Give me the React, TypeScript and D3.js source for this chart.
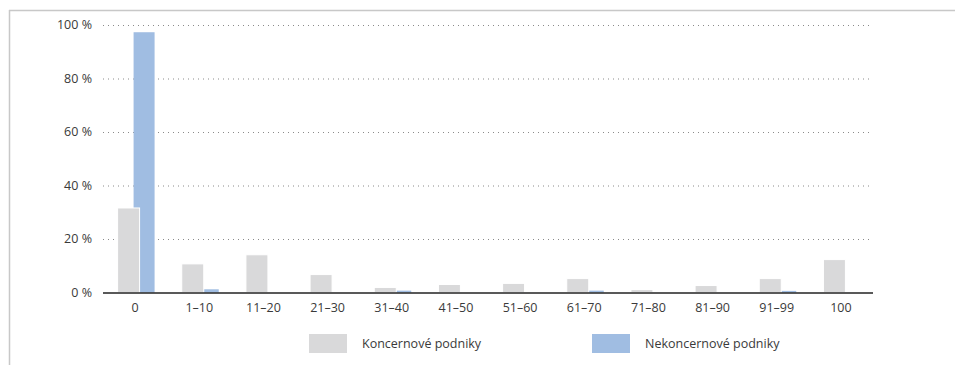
import React from "react";
import * as d3 from "d3";

const categories = ["0", "1–10", "11–20", "21–30", "31–40", "41–50", "51–60", "61–70", "71–80", "81–90", "91–99", "100"];
const koncernove = [31.6, 10.7, 14.1, 6.7, 1.9, 3.0, 3.4, 5.2, 1.1, 2.6, 5.2, 12.3];
const nekoncernove = [97.3, 1.2, 0, 0, 0.7, 0, 0, 0.7, 0, 0, 0.6, 0];
const yTicks = [0, 20, 40, 60, 80, 100];
const seriesNames = ["Koncernové podniky", "Nekoncernové podniky"];

const GRAY = "#d9d9da";
const BLUE = "#a0bde2";
const FONT = "'Open Sans', 'Noto Sans', sans-serif";
const FS = 12.5;

export default function App() {
  const W = 955, H = 365;
  const x0 = 103, x1 = 873, yTop = 25, yBase = 292.5;
  const x = d3.scaleBand<string>().domain(categories).range([x0, x1]).padding(0);
  const y = d3.scaleLinear().domain([0, 100]).range([yBase, yTop]);
  const bw = 22;
  const center = (c: string) => (x(c) as number) + x.bandwidth() / 2;

  return (
    <svg width={W} height={H} style={{ position: "absolute", left: 0, top: 0, background: "#fff" }} fontFamily={FONT}>
      <line x1={9} y1={10.5} x2={W} y2={10.5} stroke="#c8c8c8" strokeWidth={1.5} />
      <line x1={9.5} y1={10} x2={9.5} y2={H} stroke="#c8c8c8" strokeWidth={1.5} />
      {yTicks.map((t) => (
        <g key={t}>
          {t > 0 && (
            <line x1={x0} x2={x1} y1={y(t) + 0.5} y2={y(t) + 0.5} stroke="#8a8a8a" strokeWidth={1} strokeDasharray="1,4" />
          )}
          <text x={92} y={y(t)} dy="0.35em" textAnchor="end" fontSize={FS} fill="#3a3a3a">
            {t} %
          </text>
        </g>
      ))}
      {categories.map((c, i) => (
        <g key={c}>
          {nekoncernove[i] > 0 && (
            <rect x={center(c) - 1.5} width={21} y={y(nekoncernove[i])} height={yBase - y(nekoncernove[i])} fill={BLUE} />
          )}
          <rect x={center(c) - 17.5} width={bw} y={y(koncernove[i])} height={yBase - y(koncernove[i])} fill={GRAY} stroke="#fff" strokeWidth={1} />
          <text x={center(c)} y={308} dy="0.35em" textAnchor="middle" fontSize={FS} fill="#3a3a3a">
            {c}
          </text>
        </g>
      ))}
      <line x1={x0} x2={x1} y1={yBase + 0.5} y2={yBase + 0.5} stroke="#222" strokeWidth={1.5} />
      <rect x={309} y={334} width={38} height={19} fill={GRAY} />
      <text x={362} y={343.5} dy="0.35em" fontSize={FS} fill="#3a3a3a">{seriesNames[0]}</text>
      <rect x={592} y={334} width={38} height={19} fill={BLUE} />
      <text x={645} y={343.5} dy="0.35em" fontSize={FS} fill="#3a3a3a">{seriesNames[1]}</text>
    </svg>
  );
}
